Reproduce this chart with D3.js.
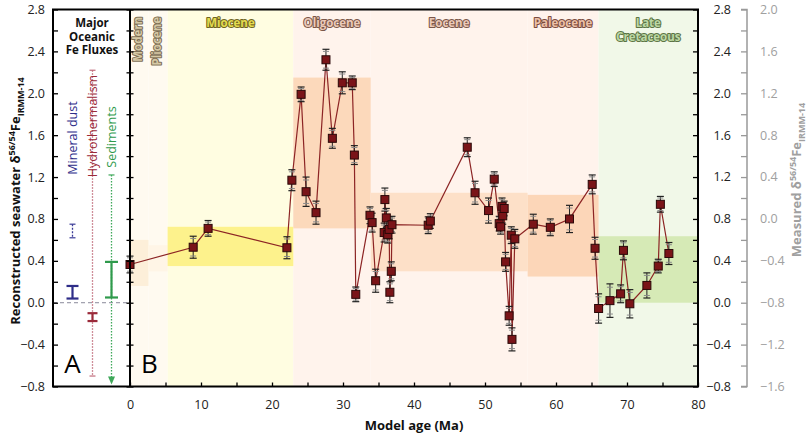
<!DOCTYPE html>
<html><head><meta charset="utf-8">
<script src="https://cdn.jsdelivr.net/npm/d3@7"></script>
<style>body{margin:0;background:#fff} svg{display:block;font-family:"Open Sans",sans-serif}</style>
</head><body><svg id="c" width="812" height="435"></svg>
<script>
// ---------- DATA ----------
const ages   = [0.0, 8.9, 11.0, 22.1, 22.8, 24.1, 24.8, 26.2, 27.6, 28.5, 29.9, 31.3, 31.6, 31.8,
  33.8, 34.1, 34.6, 35.8, 35.9, 36.1, 36.3, 36.5, 36.6, 36.8, 36.9, 42.0, 42.3, 47.5, 48.6,
  50.5, 51.3, 52.0, 52.2, 52.4, 52.5, 52.7, 52.9, 53.4, 53.7, 53.8, 54.2, 56.8, 59.2, 61.9,
  65.1, 65.5, 66.0, 67.6, 69.1, 69.5, 70.4, 72.8, 74.4, 74.7, 75.9];
const values = [0.365, 0.53, 0.71, 0.525, 1.17, 1.99, 1.06, 0.86, 2.32, 1.57, 2.10, 2.10, 1.41, 0.08,
  0.835, 0.765, 0.21, 0.67, 0.985, 0.81, 0.65, 0.70, 0.10, 0.30, 0.745, 0.74, 0.78, 1.485, 1.05,
  0.88, 1.18, 0.755, 0.725, 0.92, 0.83, 0.90, 0.39, -0.125, 0.645, -0.35, 0.61, 0.75, 0.72, 0.80,
  1.13, 0.52, -0.055, 0.02, 0.085, 0.50, -0.01, 0.165, 0.35, 0.94, 0.47];
const errors = [0.08, 0.105, 0.075, 0.105, 0.10, 0.07, 0.14, 0.11, 0.10, 0.095, 0.105, 0.065, 0.09, 0.07,
  0.08, 0.09, 0.11, 0.09, 0.11, 0.09, 0.08, 0.09, 0.10, 0.09, 0.08, 0.08, 0.07, 0.09, 0.11,
  0.12, 0.07, 0.07, 0.07, 0.08, 0.08, 0.07, 0.09, 0.09, 0.08, 0.11, 0.09, 0.095, 0.08, 0.13,
  0.09, 0.105, 0.14, 0.16, 0.085, 0.09, 0.135, 0.12, 0.065, 0.075, 0.105];

const epochNames     = ["Modern", "Pliocene", "Miocene", "Oligocene", "Eocene", "Paleocene", "Late Cretaceous"];
const epochStart     = [0, 2.6, 5.3, 23.0, 33.9, 56.0, 66.0];
const epochEnd       = [2.6, 5.3, 23.0, 33.9, 56.0, 66.0, 80];
const epochRangeLow  = [0.16, 0.30, 0.35, 0.71, 0.30, 0.25, 0.0];
const epochRangeHigh = [0.60, 0.55, 0.725, 2.15, 1.05, 1.03, 0.635];

const xTickLabels  = [0, 10, 20, 30, 40, 50, 60, 70, 80];
const yTickLabels  = [-0.8, -0.4, 0.0, 0.4, 0.8, 1.2, 1.6, 2.0, 2.4, 2.8];
const y2TickLabels = [-1.6, -1.2, -0.8, -0.4, 0.0, 0.4, 0.8, 1.2, 1.6, 2.0];

const fluxNames     = ["Mineral dust", "Hydrothermalism", "Sediments"];
const fluxLow       = [0.04, -0.175, 0.05];
const fluxHigh      = [0.16, -0.10, 0.39];
const fluxRangeLow  = [0.62, -0.70, -0.78];
const fluxRangeHigh = [0.75, 2.22, 1.22];

// ---------- LAYOUT / STYLE ----------
const svg = d3.select("#c");
const L = 53, X0 = 130, R = 698, T = 9.5, B = 386.5;
const x = d3.scaleLinear().domain([0, 80]).range([X0, R]);
const y = d3.scaleLinear().domain([-0.8, 2.8]).range([B, T]);
const y2 = d3.scaleLinear().domain([-1.6, 2.0]).range([B, T]);

const bgCol    = ["#fffaf0", "#fffaf0", "#fffde1", "#fff3ec", "#fff3ec", "#fff3ec", "#f1f8e8"];
const rangeCol = ["#fdefd9", "#fff5e6", "#fdf28c", "#fcd9bb", "#fde0c8", "#fcd6b8", "#d6eab6"];
const lblFill  = ["#d6c8a4", "#d6c8a4", "#e4dc50", "#ecc9b8", "#ecc9b8", "#ecc0a8", "#bcd8a4"];
const lblStroke= ["#7d6e54", "#7d6e54", "#6e6420", "#7a5648", "#7a5648", "#7a4a3c", "#5c7444"];

// backgrounds
svg.append("g").selectAll("rect").data(epochNames).join("rect")
  .attr("x", (d, i) => x(epochStart[i])).attr("width", (d, i) => x(epochEnd[i]) - x(epochStart[i]))
  .attr("y", T).attr("height", B - T).attr("fill", (d, i) => bgCol[i]);
svg.append("g").selectAll("rect").data(epochNames).join("rect")
  .attr("x", (d, i) => x(epochStart[i])).attr("width", (d, i) => x(epochEnd[i]) - x(epochStart[i]))
  .attr("y", (d, i) => y(epochRangeHigh[i])).attr("height", (d, i) => y(epochRangeLow[i]) - y(epochRangeHigh[i]))
  .attr("fill", (d, i) => rangeCol[i]);

// epoch labels
const eg = svg.append("g").attr("font-weight", "bold").attr("font-size", 11.5)
  .attr("paint-order", "stroke").attr("stroke-width", 2).attr("stroke-linejoin", "round");
epochNames.forEach((n, i) => {
  const cx = (x(epochStart[i]) + x(epochEnd[i])) / 2;
  if (i < 2) {
    eg.append("text").attr("transform", `translate(${cx + 3},${17}) rotate(-90)`)
      .attr("text-anchor", "end").text(n).attr("fill", lblFill[i]).attr("stroke", lblStroke[i]);
  } else if (i === 6) {
    const t = eg.append("text").attr("text-anchor", "middle").attr("fill", lblFill[i]).attr("stroke", lblStroke[i]);
    t.append("tspan").attr("x", cx).attr("y", 27).text("Late");
    t.append("tspan").attr("x", cx).attr("y", 40.5).text("Cretaceous");
  } else {
    eg.append("text").attr("x", cx).attr("y", 27).attr("text-anchor", "middle").text(n)
      .attr("fill", lblFill[i]).attr("stroke", lblStroke[i]);
  }
});

// dashed zero line in panel A
svg.append("line").attr("x1", L).attr("x2", X0).attr("y1", y(0)).attr("y2", y(0))
  .attr("stroke", "#8a8a9a").attr("stroke-dasharray", "4,3").attr("stroke-width", 1);

// ---------- Panel A fluxes ----------
const fluxX = [72.5, 92.5, 111.5];
const fluxCol = ["#2e2d88", "#9b2a3a", "#2f9a4c"];
const fluxDot = ["#3a3a96", "#c06a7a", "#3fa85a"];
const fa = svg.append("g");
fluxNames.forEach((n, i) => {
  const fx = fluxX[i];
  fa.append("line").attr("x1", fx).attr("x2", fx).attr("y1", y(fluxRangeHigh[i])).attr("y2", y(fluxRangeLow[i]) - (i === 2 ? 6 : 0))
    .attr("stroke", fluxDot[i]).attr("stroke-width", 1.3).attr("stroke-dasharray", i === 0 ? "2,1.5" : "1.5,1.5");
  fa.append("line").attr("x1", fx - 3).attr("x2", fx + 3).attr("y1", y(fluxRangeHigh[i])).attr("y2", y(fluxRangeHigh[i]))
    .attr("stroke", fluxDot[i]).attr("stroke-width", 1.2);
  if (i !== 2) {
    fa.append("line").attr("x1", fx - 3).attr("x2", fx + 3).attr("y1", y(fluxRangeLow[i])).attr("y2", y(fluxRangeLow[i]))
      .attr("stroke", fluxDot[i]).attr("stroke-width", 1.2);
  } else {
    const yb = y(fluxRangeLow[i]);
    fa.append("path").attr("d", `M${fx - 3.5},${yb - 8} L${fx + 3.5},${yb - 8} L${fx},${yb} Z`).attr("fill", fluxDot[i]);
  }
  const w = [6, 5, 6.5][i];
  fa.append("line").attr("x1", fx).attr("x2", fx).attr("y1", y(fluxHigh[i])).attr("y2", y(fluxLow[i]))
    .attr("stroke", fluxCol[i]).attr("stroke-width", 2.2);
  [fluxHigh[i], fluxLow[i]].forEach(v => fa.append("line").attr("x1", fx - w).attr("x2", fx + w)
    .attr("y1", y(v)).attr("y2", y(v)).attr("stroke", fluxCol[i]).attr("stroke-width", 2.2));
  const ly = [138, 126, 137][i];
  fa.append("text").attr("transform", `translate(${fx + 4.5},${ly}) rotate(-90)`).attr("text-anchor", "middle")
    .attr("font-size", 12.5).attr("fill", fluxCol[i]).text(n);
});
const ttl = svg.append("text").attr("text-anchor", "middle").attr("font-weight", "bold").attr("font-size", 11.5).attr("fill", "#111");
["Major", "Oceanic", "Fe Fluxes"].forEach((s, k) => ttl.append("tspan").attr("x", 92).attr("y", 27 + k * 13.5).text(s));
svg.append("text").attr("x", 72.5).attr("y", 373).attr("text-anchor", "middle").attr("font-size", 26).attr("fill", "#000").text("A");
svg.append("text").attr("x", 149.5).attr("y", 373).attr("text-anchor", "middle").attr("font-size", 26).attr("fill", "#000").text("B");

// ---------- data series ----------
const pts = ages.map((a, i) => ({a, v: values[i], e: errors[i]}));
svg.append("path").datum(pts).attr("fill", "none").attr("stroke", "#8c2424").attr("stroke-width", 1.2)
  .attr("d", d3.line().x(d => x(d.a)).y(d => y(d.v)));
const eb = svg.append("g");
pts.forEach(d => {
  const cx = x(d.a);
  eb.append("line").attr("x1", cx).attr("x2", cx).attr("y1", y(d.v + d.e)).attr("y2", y(d.v - d.e)).attr("stroke", "#222").attr("stroke-width", 1);
  [d.v + d.e, d.v - d.e].forEach(v => eb.append("line").attr("x1", cx - 3.5).attr("x2", cx + 3.5).attr("y1", y(v)).attr("y2", y(v)).attr("stroke", "#222").attr("stroke-width", 1.2));
  [d.v + d.e * 0.8, d.v - d.e * 0.8].forEach(v => eb.append("line").attr("x1", cx - 3).attr("x2", cx + 3).attr("y1", y(v)).attr("y2", y(v)).attr("stroke", "#8a8a8a").attr("stroke-width", 1));
});
svg.append("g").selectAll("rect").data(pts).join("rect")
  .attr("x", d => x(d.a) - 4).attr("y", d => y(d.v) - 4).attr("width", 8).attr("height", 8)
  .attr("fill", "#7a1418").attr("stroke", "#2a0808").attr("stroke-width", 1);

// ---------- axes / frame ----------
const minorY = d3.range(-0.8, 2.81, 0.2);
svg.append("g").attr("transform", `translate(${L},0)`)
  .call(d3.axisRight(y).tickValues(minorY).tickSize(5).tickFormat(""))
  .call(g => g.select(".domain").remove()).selectAll("line").attr("stroke", "#000").attr("stroke-width", 1.3);
svg.append("g").attr("transform", `translate(${L},0)`)
  .call(d3.axisLeft(y).tickValues(yTickLabels).tickSize(0).tickPadding(8).tickFormat(d3.format(".1f")))
  .call(g => g.select(".domain").remove())
  .selectAll("text").attr("font-size", 12.5).attr("fill", "#222").attr("font-family", "Open Sans");
svg.append("g").attr("transform", `translate(${X0 - 3.5},0)`)
  .call(d3.axisRight(y).tickValues(minorY).tickSize(7).tickFormat(""))
  .call(g => g.select(".domain").remove()).selectAll("line").attr("stroke", "#000").attr("stroke-width", 1.3);
svg.append("g").attr("transform", `translate(${R},0)`)
  .call(d3.axisLeft(y).tickValues(minorY).tickSize(5).tickFormat(""))
  .call(g => g.select(".domain").remove()).selectAll("line").attr("stroke", "#000").attr("stroke-width", 1.3);
svg.append("g").selectAll("text").data(yTickLabels).join("text")
  .attr("x", 731).attr("y", d => y(d)).attr("dy", "0.35em").attr("text-anchor", "end")
  .attr("font-size", 12.5).attr("fill", "#222").text(d => d3.format(".1f")(d));
svg.append("g").attr("transform", `translate(0,${B})`)
  .call(d3.axisTop(x).tickValues(d3.range(0, 81, 5)).tickSize(4).tickFormat(""))
  .call(g => g.select(".domain").remove()).selectAll("line").attr("stroke", "#000").attr("stroke-width", 1.3);
svg.append("g").attr("transform", `translate(0,${B})`)
  .call(d3.axisBottom(x).tickValues(xTickLabels).tickSize(0).tickPadding(14))
  .call(g => g.select(".domain").remove())
  .selectAll("text").attr("font-size", 12.5).attr("fill", "#222").attr("font-family", "Open Sans");
svg.append("rect").attr("x", L).attr("y", T).attr("width", R - L).attr("height", B - T)
  .attr("fill", "none").attr("stroke", "#000").attr("stroke-width", 2);
svg.append("line").attr("x1", X0).attr("x2", X0).attr("y1", T).attr("y2", B).attr("stroke", "#000").attr("stroke-width", 2);

// secondary gray axis
const g2 = svg.append("g").attr("transform", "translate(747,0)");
g2.call(d3.axisLeft(y2).tickValues(d3.range(-1.6, 2.01, 0.2)).tickSize(6).tickFormat(""))
  .call(g => g.select(".domain").attr("stroke", "#999").attr("stroke-width", 1.5))
  .selectAll("line").attr("stroke", "#999").attr("stroke-width", 1.3);
g2.select(".domain").attr("d", `M-6,${y2(2.0)}H0V${y2(-1.6)}H-6`);
svg.append("g").selectAll("text").data(y2TickLabels).join("text")
  .attr("x", 760).attr("y", d => y2(d)).attr("dy", "0.35em")
  .attr("font-size", 12.5).attr("fill", "#a0a0a0").text(d => d3.format(".1f")(d));

// axis titles
function isoTitle(tx, ty, pre, col) {
  const t = svg.append("text").attr("transform", `translate(${tx},${ty}) rotate(-90)`).attr("text-anchor", "middle")
    .attr("font-weight", "bold").attr("font-size", 13).attr("fill", col);
  t.append("tspan").text(pre + "δ");
  t.append("tspan").attr("font-size", 9).attr("dy", -5).text("56/54");
  t.append("tspan").attr("dy", 5).text("Fe");
  t.append("tspan").attr("font-size", 9).attr("dy", 4).text("IRMM-14");
}
isoTitle(20, 201, "Reconstructed seawater ", "#111");
isoTitle(801, 180, "Measured ", "#a0a0a0");
svg.append("text").attr("x", 414).attr("y", 430).attr("text-anchor", "middle").attr("font-weight", "bold")
  .attr("font-size", 13).attr("fill", "#111").text("Model age (Ma)");
</script></body></html>
